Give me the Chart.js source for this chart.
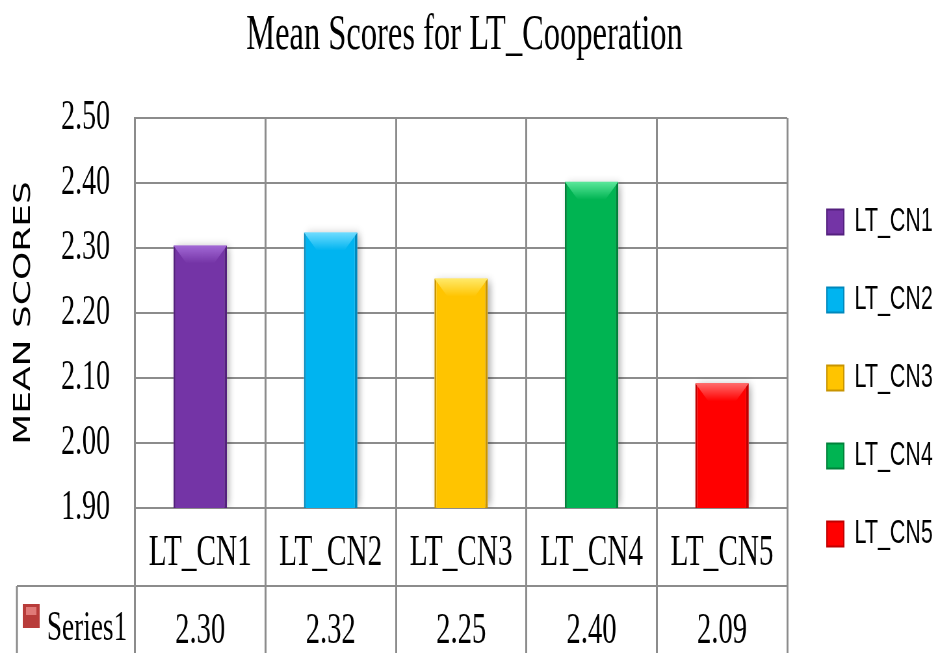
<!DOCTYPE html>
<html>
<head>
<meta charset="utf-8">
<script src="https://cdn.jsdelivr.net/npm/chart.js@4.4.1/dist/chart.umd.min.js"></script>
<style>
  html, body { margin: 0; padding: 0; background: #fff; overflow: hidden; }
</style>
</head>
<body>
<!-- the source picture is squeezed sideways, so the canvas is drawn wide and shown at 938px -->
<canvas id="chart" width="1443" height="653" style="display:block;width:938px;height:653px"></canvas>
<script>
/* --------------- Data --------------------- */
const categories = ["LT_CN1", "LT_CN2", "LT_CN3", "LT_CN4", "LT_CN5"];
const meanScores = [2.304, 2.324, 2.253, 2.402, 2.092];
const seriesName = "Series1";
const yMin = 1.9;
const yMax = 2.5;
const yStep = 0.1;

/* --------------- Colors --------------------- */
const barColors = ["#7434a6", "#00b4f0", "#ffc400", "#00b452", "#ff0000"];
const barLight = ["#a36ad6", "#70dcff", "#ffea6a", "#5ce89c", "#ff6c6c"];
const barDark = ["#54207e", "#0088bc", "#c89400", "#00823a", "#c00000"];
const gridColor = "#8c8c8c";
const serif = "Liberation Serif";

/* --------------- Soft shadow + bevel on each bar --------------------- */
const bevelPlugin = {
  id: "barBevel",
  beforeDatasetsDraw(chart) {
    const ctx = chart.ctx;
    const bottom = chart.chartArea.bottom;
    chart.getDatasetMeta(0).data.forEach((bar) => {
      const { x, y, width } = bar.getProps(["x", "y", "width"], true);
      ctx.save();
      ctx.beginPath();
      ctx.rect(chart.chartArea.left, chart.chartArea.top, chart.chartArea.width, chart.chartArea.height);
      ctx.clip();
      ctx.shadowColor = "rgba(0,0,0,0.3)";
      ctx.shadowBlur = 9;
      ctx.shadowOffsetX = 4;
      ctx.shadowOffsetY = 2;
      ctx.fillStyle = "#fff";
      ctx.fillRect(x - width / 2, y, width, bottom - y - 4);
      ctx.restore();
    });
  },
  afterDatasetsDraw(chart) {
    const ctx = chart.ctx;
    chart.getDatasetMeta(0).data.forEach((bar, i) => {
      const { x, y, width } = bar.getProps(["x", "y", "width"], true);
      const l = x - width / 2;
      const r = x + width / 2;
      const by = 18;
      const bx = 20;
      const g = ctx.createLinearGradient(0, y, 0, y + by);
      g.addColorStop(0, barLight[i]);
      g.addColorStop(1, barColors[i]);
      ctx.save();
      ctx.fillStyle = g;
      ctx.beginPath();
      ctx.moveTo(l, y);
      ctx.lineTo(r, y);
      ctx.lineTo(r - bx, y + by);
      ctx.lineTo(l + bx, y + by);
      ctx.closePath();
      ctx.fill();
      ctx.restore();
    });
  },
};

/* --------------- Data table under the axis --------------------- */
const tablePlugin = {
  id: "dataTable",
  afterDraw(chart) {
    const { ctx, chartArea } = chart;
    const xScale = chart.scales.x;
    const rowTop = chartArea.bottom + 78;
    const tableLeft = 26;
    ctx.save();
    ctx.strokeStyle = gridColor;
    ctx.lineWidth = 2;
    ctx.beginPath();
    ctx.moveTo(tableLeft, rowTop);
    ctx.lineTo(chartArea.right, rowTop);
    ctx.stroke();
    ctx.lineWidth = 3;
    ctx.beginPath();
    ctx.moveTo(tableLeft, rowTop);
    ctx.lineTo(tableLeft, chart.height);
    ctx.stroke();

    // series key
    ctx.fillStyle = "#b83c3a";
    ctx.fillRect(35, 604, 26, 24);
    ctx.fillStyle = "#e07a78";
    ctx.fillRect(40, 607, 16, 8);

    ctx.fillStyle = "#000";
    ctx.textBaseline = "alphabetic";
    ctx.textAlign = "left";
    ctx.font = "42px " + serif;
    ctx.fillText(seriesName, 72, 640);

    ctx.textAlign = "center";
    ctx.font = "44px " + serif;
    meanScores.forEach((v, i) => {
      ctx.fillText(v.toFixed(2), xScale.getPixelForValue(i), 643);
    });
    ctx.restore();
  },
};

/* --------------- Move the legend a little off the plot --------------------- */
const legendNudge = {
  id: "legendNudge",
  afterLayout(chart) {
    const lg = chart.legend;
    const w = lg.right - lg.left;
    lg.left = chart.chartArea.right + 16;
    lg.right = lg.left + w;
  },
};

/* --------------- Chart --------------------- */
const chart = new Chart(document.getElementById("chart"), {
  type: "bar",
  data: {
    labels: categories,
    datasets: [
      {
        label: seriesName,
        data: meanScores,
        backgroundColor: barColors,
        borderColor: barDark,
        borderWidth: { left: 3, right: 4, bottom: 3, top: 0 },
        borderSkipped: false,
        barPercentage: 0.41,
        categoryPercentage: 1,
      },
    ],
  },
  options: {
    responsive: false,
    animation: false,
    layout: { padding: { right: 14 } },
    plugins: {
      tooltip: { enabled: false },
      title: {
        display: true,
        text: "Mean Scores for LT_Cooperation",
        color: "#000",
        font: { family: serif, size: 50, weight: "normal" },
        padding: { top: 6, bottom: 52 },
      },
      legend: {
        position: "right",
        title: { display: true, text: "", font: { size: 2 }, padding: { top: 100.6, bottom: 0 } },
        labels: {
          font: { family: "Liberation Sans", size: 33 },
          color: "#000",
          boxWidth: 26,
          boxHeight: 25,
          padding: 45,
          generateLabels: () =>
            categories.map((name, i) => ({
              text: name,
              fillStyle: barColors[i],
              strokeStyle: barDark[i],
              fontColor: "#000",
              lineWidth: 2,
              hidden: false,
              index: i,
            })),
        },
      },
    },
    scales: {
      x: {
        grid: { color: gridColor, lineWidth: 3, offset: true, tickLength: 145 },
        border: { color: gridColor, width: 2 },
        ticks: {
          color: "#000",
          font: { family: serif, size: 45 },
          padding: -127,
          maxRotation: 0,
          autoSkip: false,
        },
        afterFit: (s) => {
          s.height = 145;
        },
      },
      y: {
        min: yMin,
        max: yMax,
        ticks: {
          stepSize: yStep,
          color: "#000",
          font: { family: serif, size: 43 },
          padding: 38.5,
          callback: (v) => v.toFixed(2),
        },
        grid: { color: gridColor, lineWidth: 2, drawTicks: false },
        border: { color: gridColor, width: 3 },
        title: {
          display: true,
          text: "MEAN SCORES",
          color: "#000",
          font: { family: "DejaVu Sans", size: 36 },
          padding: { top: 15.4, bottom: 0 },
        },
        afterFit: (s) => {
          s.width = 207.7;
        },
      },
    },
  },
  plugins: [bevelPlugin, tablePlugin, legendNudge],
});
</script>
</body>
</html>
